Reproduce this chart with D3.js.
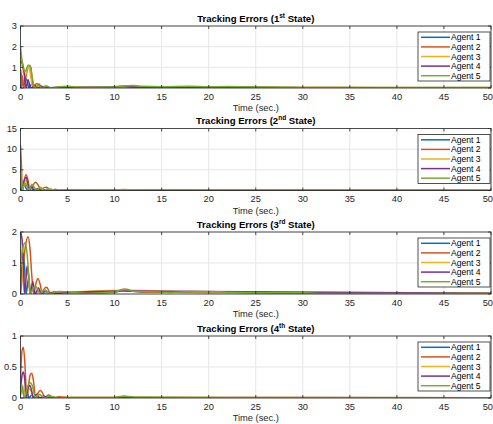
<!DOCTYPE html>
<html><head><meta charset="utf-8">
<script src="https://cdn.jsdelivr.net/npm/d3@7"></script>
<style>body{margin:0;background:#fff}svg{display:block;font-family:"Liberation Sans",Arial,sans-serif}</style>
</head><body><svg id="c" width="493" height="424"></svg>
<script>
const agents = ["Agent 1","Agent 2","Agent 3","Agent 4","Agent 5"];
const colors = ["#0072BD","#D95319","#EDB120","#7E2F8E","#77AC30"];
const xTicks = [0,5,10,15,20,25,30,35,40,45,50];
const titleOrd = ["st","nd","rd","th"];
const yMax = [3,15,2,1];
const yTicks = [[0,1,2,3],[0,5,10,15],[0,1,2],[0,0.5,1]];

// State 1
const s1a1=[[0,0.9],[0.15,0.3],[0.3,0.1],[0.5,0.5],[0.7,0.35],[0.9,0],[1.2,0.2],[1.5,0.05],[1.8,0],[2.2,0.08],[2.8,0],[3.5,0.03],[5,0.03],[8,0.02],[11,0.08],[12,0.05],[15,0.03],[20,0.03],[25,0.02],[30,0.01],[40,0.01],[50,0.01]];
const s1a2=[[0,0.8],[0.1,0],[0.2,0.6],[0.35,0],[0.6,0.6],[0.9,1.1],[1.1,1.0],[1.35,0],[1.7,0.2],[2.0,0.18],[2.3,0],[2.7,0.1],[3.2,0],[4,0.05],[5,0.02],[8,0.03],[10,0.05],[11,0.1],[12,0.08],[14,0.04],[18,0.05],[22,0.04],[26,0.03],[30,0.02],[35,0.02],[40,0.01],[50,0.01]];
const s1a3=[[0,1.8],[0.2,1.0],[0.5,0.6],[0.8,1.05],[1.0,0.8],[1.3,0],[1.7,0.15],[2.1,0],[2.6,0.08],[3.2,0],[5,0.05],[10,0.05],[11.5,0.1],[13,0.06],[20,0.05],[30,0.03],[50,0.02]];
const s1a4=[[0,1.3],[0.2,1.2],[0.4,0.7],[0.6,0],[0.8,0.4],[1.0,0.1],[1.2,0],[1.5,0.15],[1.8,0],[2.3,0.06],[3,0],[5,0.02],[11,0.06],[15,0.02],[50,0.01]];
const s1a5=[[0,2.0],[0.15,1.4],[0.3,1.0],[0.5,0.8],[0.8,1.1],[1.0,1.05],[1.3,0.4],[1.5,0],[1.9,0.12],[2.3,0],[2.8,0.08],[3.3,0],[4,0.05],[5,0.08],[6,0.05],[7,0.03],[9,0.05],[10,0.05],[11,0.1],[12,0.12],[13,0.08],[15,0.06],[18,0.08],[20,0.06],[22,0.07],[25,0.05],[28,0.04],[30,0.02],[33,0.03],[36,0.02],[40,0.02],[45,0.02],[50,0.02]];
// State 2
const s2a1=[[0,3],[0.15,0],[0.4,1.5],[0.6,0.5],[0.8,0],[1.1,0.8],[1.4,0],[1.8,0.4],[2.2,0],[2.7,0.2],[3.2,0],[5,0.05],[10,0.05],[11,0.15],[12,0.05],[50,0.02]];
const s2a2=[[0,11],[0.1,6],[0.2,0],[0.4,2.5],[0.6,3.8],[0.8,2.5],[1.0,0],[1.3,1.2],[1.6,2.0],[1.9,1.2],[2.2,0],[2.5,0.7],[2.8,0.8],[3.1,0.2],[3.4,0],[3.7,0.3],[4.2,0],[5,0.1],[10,0.08],[11,0.2],[12,0.1],[20,0.08],[30,0.05],[50,0.03]];
const s2a3=[[0,5],[0.2,0],[0.5,2.5],[0.8,1.0],[1.0,0],[1.3,1.3],[1.6,0.3],[1.8,0],[2.2,0.6],[2.6,0],[3.0,0.3],[3.5,0],[5,0.08],[11,0.15],[20,0.05],[50,0.03]];
const s2a4=[[0,1.5],[0.15,0],[0.4,2.5],[0.6,3.2],[0.8,1.5],[0.95,0],[1.2,1.0],[1.4,0.2],[1.6,0],[1.9,0.5],[2.2,0],[2.6,0.2],[3,0],[5,0.05],[50,0.02]];
const s2a5=[[0,6],[0.1,3],[0.2,0],[0.45,1.8],[0.7,1.0],[0.9,0],[1.2,1.5],[1.5,0.6],[1.7,0],[2.1,0.8],[2.5,0],[2.9,0.4],[3.3,0.3],[3.7,0],[4,0.2],[5,0.1],[7,0.05],[10,0.1],[11,0.25],[12,0.1],[15,0.08],[20,0.1],[25,0.08],[30,0.05],[40,0.04],[50,0.03]];
// State 3
const s3a1=[[0,0.1],[0.15,0.9],[0.3,1.3],[0.45,0.8],[0.6,0],[0.85,0.5],[1.05,0],[1.3,0.2],[1.6,0],[2.0,0.1],[2.4,0],[3,0.05],[5,0.05],[10,0.05],[10.8,0.12],[11.5,0.1],[13,0.06],[20,0.05],[25,0.04],[30,0.03],[50,0.02]];
const s3a2=[[0,0],[0.2,0.6],[0.5,1.5],[0.8,1.85],[1.0,1.5],[1.2,0.6],[1.4,0],[1.65,0.35],[1.85,0.5],[2.1,0.3],[2.3,0],[2.6,0.2],[2.8,0.22],[3.0,0.1],[3.2,0],[3.6,0.08],[4,0.05],[5,0.05],[7,0.03],[10,0.06],[11,0.15],[12,0.1],[14,0.06],[18,0.08],[20,0.07],[25,0.05],[30,0.04],[40,0.02],[50,0.02]];
const s3a3=[[0,1.5],[0.2,1.0],[0.4,0],[0.6,0.8],[0.8,0.6],[1.0,0],[1.3,0.3],[1.6,0],[2.0,0.15],[2.4,0],[5,0.05],[11,0.12],[20,0.06],[50,0.03]];
const s3a4=[[0,2.0],[0.15,1.8],[0.3,1.0],[0.45,0],[0.7,0.9],[0.9,0.5],[1.05,0],[1.3,0.4],[1.55,0],[1.9,0.2],[2.2,0],[2.7,0.1],[3.1,0],[5,0.05],[11,0.1],[50,0.02]];
const s3a5=[[0,1.0],[0.15,1.3],[0.35,1.6],[0.5,1.65],[0.7,1.3],[0.9,0.5],[1.05,0],[1.3,0.15],[1.6,0.25],[1.9,0.1],[2.1,0],[2.5,0.15],[2.9,0.05],[3.2,0],[3.6,0.06],[4,0.08],[5,0.07],[6,0.04],[7,0.02],[9,0.05],[10,0.06],[10.7,0.14],[11.3,0.15],[12,0.08],[14,0.07],[16,0.05],[18,0.08],[20,0.08],[22,0.06],[24,0.05],[26,0.04],[28,0.05],[30,0.04],[32,0.02],[35,0.02],[40,0.02],[45,0.02],[50,0.02]];
// State 4
const s4a1=[[0,0.05],[0.15,0.2],[0.3,0.1],[0.45,0],[0.7,0.1],[0.9,0],[1.2,0.05],[1.5,0],[5,0.005],[50,0.003]];
const s4a2=[[0,0.3],[0.15,0.75],[0.3,0.82],[0.45,0.6],[0.6,0.15],[0.7,0],[0.85,0.2],[1.05,0.38],[1.2,0.4],[1.4,0.25],[1.6,0],[1.85,0.08],[2.1,0.12],[2.35,0.08],[2.6,0],[2.85,0.04],[3.0,0.05],[3.3,0.02],[3.6,0],[4,0.02],[5,0.01],[10,0.01],[11,0.03],[12,0.01],[50,0.005]];
const s4a3=[[0,0.1],[0.2,0.2],[0.4,0.1],[0.6,0],[0.9,0.15],[1.1,0.12],[1.4,0],[1.8,0.05],[2.2,0],[5,0.01],[50,0.005]];
const s4a4=[[0,0.1],[0.15,0.35],[0.3,0.42],[0.45,0.3],[0.6,0],[0.8,0.15],[1.0,0.2],[1.2,0.1],[1.35,0],[1.7,0.06],[2.0,0],[2.5,0.03],[3,0],[5,0.005],[50,0.003]];
const s4a5=[[0,0.05],[0.1,0.22],[0.25,0.1],[0.4,0],[0.7,0.15],[0.95,0.25],[1.2,0.22],[1.4,0.1],[1.6,0],[1.95,0.06],[2.3,0.03],[2.6,0],[3,0.03],[3.5,0.02],[4,0],[5,0.01],[10,0.01],[11,0.03],[12,0.015],[20,0.01],[50,0.005]];

const panels = [[s1a1,s1a2,s1a3,s1a4,s1a5],[s2a1,s2a2,s2a3,s2a4,s2a5],[s3a1,s3a2,s3a3,s3a4,s3a5],[s4a1,s4a2,s4a3,s4a4,s4a5]];

const svg = d3.select("#c");
const L = 20.5, R = 491;
const tops = [26, 128.5, 232, 336];
const H = 62;
const x = d3.scaleLinear().domain([0,50]).range([L,R]);
const axisCol = "#262626";
const fs = 9.3;

panels.forEach((series, p) => {
  const top = tops[p], bot = top + H;
  const y = d3.scaleLinear().domain([0,yMax[p]]).range([bot, top]);
  const g = svg.append("g");
  g.selectAll(".gx").data(xTicks).enter().append("line")
    .attr("x1", d=>x(d)).attr("x2", d=>x(d)).attr("y1", top).attr("y2", bot)
    .attr("stroke", "#e6e6e6").attr("stroke-width", 1);
  g.selectAll(".gy").data(yTicks[p]).enter().append("line")
    .attr("x1", L).attr("x2", R).attr("y1", d=>y(d)).attr("y2", d=>y(d))
    .attr("stroke", "#e6e6e6").attr("stroke-width", 1);
  const cid = "clip"+p;
  svg.append("clipPath").attr("id", cid).append("rect")
    .attr("x", L).attr("y", top-1).attr("width", R-L).attr("height", H+1);
  const line = d3.line().x(d=>x(d[0])).y(d=>y(d[1])).curve(d3.curveMonotoneX);
  const lg = g.append("g").attr("clip-path", `url(#${cid})`);
  series.forEach((s,i) => {
    lg.append("path").attr("d", line(s)).attr("fill","none")
      .attr("stroke", colors[i]).attr("stroke-width", 1.5).attr("stroke-linejoin","round");
  });
  g.append("rect").attr("x", L).attr("y", top).attr("width", R-L).attr("height", H)
    .attr("fill","none").attr("stroke", axisCol).attr("stroke-width", 0.8);
  const tl = 3;
  xTicks.forEach((t, k) => {
    g.append("line").attr("x1", x(t)).attr("x2", x(t)).attr("y1", bot).attr("y2", bot-tl).attr("stroke", axisCol).attr("stroke-width",0.8);
    g.append("line").attr("x1", x(t)).attr("x2", x(t)).attr("y1", top).attr("y2", top+tl).attr("stroke", axisCol).attr("stroke-width",0.8);
    const last = k === xTicks.length - 1;
    g.append("text").attr("x", last ? 493 : x(t)).attr("y", bot+11.5)
      .attr("text-anchor", last ? "end" : "middle")
      .attr("font-size", fs).attr("fill", axisCol).text(t);
  });
  yTicks[p].forEach(t => {
    g.append("line").attr("x1", L).attr("x2", L+tl).attr("y1", y(t)).attr("y2", y(t)).attr("stroke", axisCol).attr("stroke-width",0.8);
    g.append("line").attr("x1", R).attr("x2", R-tl).attr("y1", y(t)).attr("y2", y(t)).attr("stroke", axisCol).attr("stroke-width",0.8);
    g.append("text").attr("x", L-3.5).attr("y", y(t)+3.3).attr("text-anchor","end")
      .attr("font-size", fs).attr("fill", axisCol).text(t);
  });
  g.append("text").attr("x", (L+R)/2).attr("y", bot+23).attr("text-anchor","middle")
    .attr("font-size", fs).attr("fill", axisCol).text("Time (sec.)");
  const tt = g.append("text").attr("x", (L+R)/2).attr("y", top-4.5).attr("text-anchor","middle")
    .attr("font-size", 9.6).attr("font-weight","bold").attr("fill", "#000");
  tt.append("tspan").text(`Tracking Errors (${p+1}`);
  tt.append("tspan").attr("dy", -3.8).attr("font-size", 6.5).text(titleOrd[p]);
  tt.append("tspan").attr("dy", 3.8).text(" State)");
  const lx = 418, ly = top + 6, lw = 72, lh = 49;
  const leg = g.append("g");
  leg.append("rect").attr("x", lx).attr("y", ly).attr("width", lw).attr("height", lh)
    .attr("fill","#fff").attr("stroke", axisCol).attr("stroke-width", 0.8);
  agents.forEach((a,i) => {
    const yy = ly + 5.3 + i*9.6;
    leg.append("line").attr("x1", lx+3).attr("x2", lx+32).attr("y1", yy).attr("y2", yy)
      .attr("stroke", colors[i]).attr("stroke-width", 1.5);
    leg.append("text").attr("x", lx+33).attr("y", yy+3).attr("font-size", 8.6)
      .attr("fill", "#000").text(a);
  });
});
</script></body></html>
